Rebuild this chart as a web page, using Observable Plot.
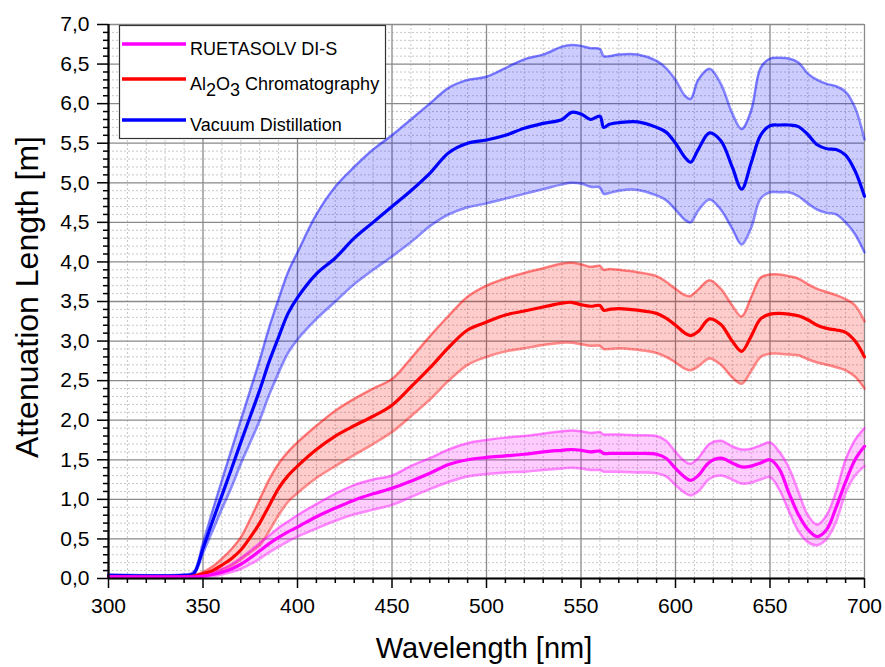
<!DOCTYPE html>
<html><head><meta charset="utf-8">
<script src="https://cdn.jsdelivr.net/npm/d3@7"></script>
<script src="https://cdn.jsdelivr.net/npm/@observablehq/plot@0.6"></script>
<style>body{margin:0;background:#fff} #chart svg{display:block}</style>
</head><body><div id="chart"></div>
<script>
// Wavelength samples [nm]
const wl = [300,340,345,350,355,360,365,370,375,380,385,390,395,400,410,420,430,440,450,460,470,480,490,500,510,520,530,540,545,550,555,560,562,565,570,580,590,595,600,605,608,612,618,624,630,635,640,645,650,655,660,665,670,675,680,685,690,695,700];

// Vacuum Distillation
const vdMean  = [0.04,0.04,0.06,0.38,0.72,1.05,1.38,1.72,2.05,2.38,2.74,3.05,3.35,3.55,3.85,4.05,4.3,4.5,4.7,4.9,5.12,5.38,5.5,5.54,5.6,5.69,5.75,5.8,5.89,5.87,5.8,5.84,5.7,5.74,5.76,5.77,5.7,5.64,5.5,5.32,5.26,5.42,5.63,5.53,5.2,4.92,5.25,5.6,5.72,5.73,5.73,5.71,5.61,5.48,5.43,5.42,5.35,5.15,4.83];
const vdUpper = [0.05,0.05,0.08,0.45,0.85,1.24,1.62,2.0,2.38,2.76,3.17,3.53,3.87,4.12,4.6,4.95,5.2,5.42,5.6,5.8,6.0,6.2,6.3,6.34,6.45,6.56,6.62,6.72,6.74,6.73,6.7,6.69,6.6,6.6,6.62,6.62,6.54,6.45,6.3,6.1,6.06,6.3,6.44,6.25,5.88,5.68,5.91,6.45,6.57,6.58,6.57,6.52,6.38,6.3,6.25,6.22,6.15,5.95,5.55];
const vdLower = [0.03,0.03,0.05,0.32,0.6,0.88,1.15,1.45,1.72,2.0,2.32,2.6,2.85,3.02,3.28,3.5,3.72,3.9,4.07,4.25,4.45,4.6,4.69,4.74,4.8,4.86,4.92,4.98,5.0,4.99,4.95,4.94,4.86,4.87,4.9,4.91,4.84,4.78,4.66,4.53,4.5,4.65,4.79,4.66,4.42,4.22,4.43,4.8,4.88,4.88,4.88,4.83,4.74,4.66,4.62,4.6,4.5,4.35,4.12];

// Al2O3 Chromatography
const alMean  = [0.02,0.02,0.03,0.06,0.1,0.17,0.25,0.36,0.52,0.7,0.92,1.14,1.3,1.42,1.63,1.8,1.93,2.05,2.19,2.42,2.66,2.92,3.14,3.24,3.33,3.38,3.43,3.48,3.49,3.46,3.44,3.45,3.39,3.4,3.41,3.39,3.35,3.29,3.2,3.1,3.07,3.12,3.28,3.21,3.0,2.87,3.06,3.28,3.34,3.35,3.34,3.32,3.27,3.2,3.16,3.14,3.11,3.0,2.8];
const alUpper = [0.03,0.03,0.04,0.08,0.15,0.25,0.37,0.52,0.75,1.0,1.25,1.45,1.6,1.72,1.93,2.12,2.27,2.4,2.52,2.78,3.06,3.32,3.56,3.7,3.79,3.86,3.92,3.98,3.99,3.97,3.94,3.95,3.9,3.91,3.9,3.87,3.82,3.75,3.66,3.58,3.57,3.65,3.77,3.66,3.45,3.31,3.55,3.8,3.84,3.84,3.82,3.79,3.72,3.66,3.62,3.58,3.53,3.45,3.25];
const alLower = [0.01,0.01,0.02,0.04,0.07,0.11,0.16,0.24,0.33,0.42,0.6,0.8,0.97,1.08,1.27,1.42,1.56,1.7,1.85,2.05,2.26,2.5,2.7,2.8,2.87,2.91,2.95,2.98,2.98,2.96,2.94,2.94,2.9,2.9,2.91,2.89,2.85,2.8,2.73,2.65,2.63,2.68,2.78,2.7,2.54,2.46,2.62,2.8,2.84,2.84,2.83,2.82,2.77,2.73,2.7,2.67,2.63,2.55,2.4];

// RUETASOLV DI-S
const ruMean  = [0.02,0.02,0.02,0.03,0.05,0.08,0.12,0.18,0.26,0.35,0.44,0.52,0.59,0.65,0.78,0.89,0.99,1.07,1.14,1.23,1.33,1.44,1.5,1.53,1.55,1.57,1.6,1.62,1.63,1.62,1.6,1.61,1.58,1.58,1.58,1.58,1.57,1.52,1.39,1.28,1.24,1.3,1.47,1.52,1.46,1.41,1.42,1.46,1.5,1.38,1.08,0.81,0.62,0.53,0.62,0.9,1.22,1.5,1.67];
const ruUpper = [0.03,0.03,0.03,0.05,0.08,0.12,0.18,0.26,0.35,0.45,0.54,0.64,0.72,0.8,0.94,1.07,1.18,1.25,1.3,1.42,1.52,1.63,1.71,1.75,1.78,1.8,1.83,1.86,1.87,1.86,1.84,1.85,1.82,1.82,1.82,1.81,1.8,1.74,1.6,1.48,1.45,1.52,1.7,1.74,1.67,1.63,1.64,1.68,1.72,1.6,1.4,1.1,0.8,0.68,0.8,1.1,1.5,1.75,1.9];
const ruLower = [0.01,0.01,0.01,0.02,0.03,0.05,0.08,0.12,0.18,0.25,0.33,0.4,0.47,0.53,0.63,0.73,0.81,0.87,0.93,1.03,1.13,1.22,1.29,1.32,1.34,1.35,1.37,1.39,1.4,1.39,1.37,1.37,1.35,1.35,1.35,1.34,1.33,1.29,1.18,1.08,1.05,1.1,1.26,1.3,1.25,1.2,1.21,1.25,1.28,1.12,0.85,0.6,0.46,0.42,0.5,0.72,1.08,1.3,1.42];

const seriesNames = ["RUETASOLV DI-S", "Al2O3 Chromatography", "Vacuum Distillation"];
const seriesColors = ["#ff00ff", "#ff0000", "#0000ff"];

const xMajor = d3.range(300, 701, 50);
const xMinor = d3.range(300, 701, 10).filter(v => v % 50 !== 0);
const yMajor = d3.range(0, 15).map(i => i / 2);
const yMinor = d3.range(0, 71).filter(i => i % 5 !== 0).map(i => i / 10);

const rows = (m, lo, hi) => wl.map((w, i) => ({w, m: m[i], lo: lo[i], hi: hi[i]}));
const series = [
  {color: seriesColors[2], data: rows(vdMean, vdLower, vdUpper)},
  {color: seriesColors[1], data: rows(alMean, alLower, alUpper)},
  {color: seriesColors[0], data: rows(ruMean, ruLower, ruUpper)}
];
const curve = "catmull-rom";
const fmt = d => d.toFixed(1).replace(".", ",");

const bandMarks = series.flatMap(s => [
  Plot.areaY(s.data, {x: "w", y1: "lo", y2: "hi", fill: s.color, fillOpacity: 0.2, curve}),
  Plot.lineY(s.data, {x: "w", y: "hi", stroke: s.color, strokeOpacity: 0.45, strokeWidth: 2.5, curve}),
  Plot.lineY(s.data, {x: "w", y: "lo", stroke: s.color, strokeOpacity: 0.45, strokeWidth: 2.5, curve})
]);
const lineMarks = series.map(s =>
  Plot.lineY(s.data, {x: "w", y: "m", stroke: s.color, strokeWidth: 3.2, curve}));

const plot = Plot.plot({
  width: 885, height: 667,
  marginLeft: 108, marginRight: 21, marginTop: 24, marginBottom: 89,
  style: {fontFamily: "'Liberation Sans', Arial, sans-serif", background: "#fff", color: "#000"},
  x: {domain: [300, 700], label: null},
  y: {domain: [0, 7], label: null},
  marks: [
    Plot.gridX(xMinor, {stroke: "#c8c8c8", strokeOpacity: 1, strokeDasharray: "2,2"}),
    Plot.gridY(yMinor, {stroke: "#c8c8c8", strokeOpacity: 1, strokeDasharray: "2,2"}),
    Plot.gridX(xMajor, {stroke: "#8a8a8a", strokeOpacity: 1, strokeWidth: 1.3}),
    Plot.gridY(yMajor, {stroke: "#8a8a8a", strokeOpacity: 1, strokeWidth: 1.3}),
    ...bandMarks,
    ...lineMarks,
    Plot.axisX(xMinor, {tickSize: 5, strokeWidth: 1.5, tickFormat: () => ""}),
    Plot.axisX(xMajor, {tickSize: 10, tickPadding: 10, strokeWidth: 1.5, fontSize: 21, tickFormat: d => String(d)}),
    Plot.axisY(yMinor, {tickSize: 5, strokeWidth: 1.5, tickFormat: () => ""}),
    Plot.axisY(yMajor, {tickSize: 11, tickPadding: 8, strokeWidth: 1.5, fontSize: 21, tickFormat: fmt}),
    Plot.ruleX([300], {stroke: "#000", strokeWidth: 2.2}),
    Plot.ruleY([0], {stroke: "#000", strokeWidth: 2.2})
  ]
});

document.getElementById("chart").appendChild(plot);

// Axis titles and legend
const svg = d3.select(plot);
svg.append("text")
  .attr("x", 484).attr("y", 658)
  .attr("text-anchor", "middle")
  .attr("font-size", 29).attr("fill", "#000")
  .attr("font-family", "'Liberation Sans', Arial, sans-serif")
  .text("Wavelength [nm]");
svg.append("text")
  .attr("transform", "translate(38,297) rotate(-90)")
  .attr("text-anchor", "middle")
  .attr("font-size", 32).attr("fill", "#000")
  .attr("font-family", "'Liberation Sans', Arial, sans-serif")
  .text("Attenuation Length [m]");

const lg = svg.append("g")
  .attr("font-family", "'Liberation Sans', Arial, sans-serif")
  .attr("font-size", 18).attr("text-anchor", "start").attr("fill", "#000");
lg.append("rect").attr("x", 119.5).attr("y", 25.5).attr("width", 266).attr("height", 113)
  .attr("fill", "#fff").attr("stroke", "#333").attr("stroke-width", 1.2);
const rowY = [44, 79, 120];
const textY = [55, 90, 131];
seriesColors.forEach((c, i) => {
  lg.append("line").attr("x1", 122).attr("x2", 186).attr("y1", rowY[i]).attr("y2", rowY[i])
    .attr("stroke", c).attr("stroke-width", 3.5);
});
lg.append("text").attr("x", 190).attr("y", textY[0]).text(seriesNames[0]);
const t2 = lg.append("text").attr("x", 190).attr("y", textY[1]);
t2.append("tspan").text("Al");
t2.append("tspan").attr("dy", 6).text("2");
t2.append("tspan").attr("dy", -6).text("O");
t2.append("tspan").attr("dy", 6).text("3");
t2.append("tspan").attr("dy", -6).text(" Chromatography");
lg.append("text").attr("x", 190).attr("y", textY[2]).text(seriesNames[2]);
</script>
</body></html>
